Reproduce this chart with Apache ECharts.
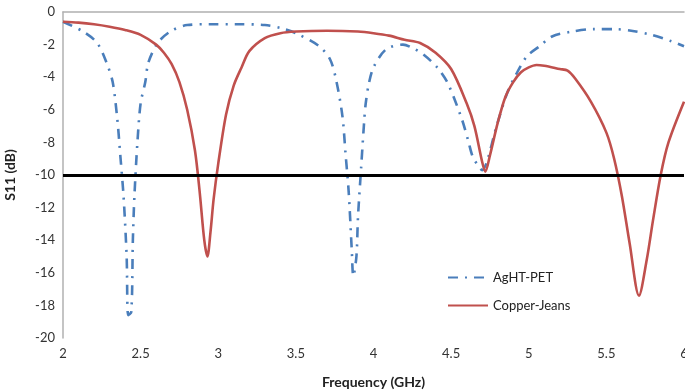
<!DOCTYPE html>
<html>
<head>
<meta charset="utf-8">
<script src="https://cdn.jsdelivr.net/npm/echarts@6/dist/echarts.min.js"></script>
<style>
  html, body { margin: 0; padding: 0; background: #fff; }
  #chart { width: 685px; height: 391px; }
</style>
</head>
<body>
<div id="chart"></div>
<script>
// frequency (GHz) / S11 (dB)
const aghtFreq = [2.0, 2.13, 2.22, 2.28, 2.32, 2.35, 2.37, 2.39, 2.41, 2.42, 2.44, 2.45, 2.46, 2.48, 2.5, 2.53, 2.55, 2.61, 2.69, 2.8, 2.95, 3.12, 3.3, 3.41, 3.5, 3.65, 3.72, 3.76, 3.8, 3.82, 3.84, 3.86, 3.87, 3.89, 3.9, 3.92, 3.94, 3.95, 3.97, 4.0, 4.08, 4.19, 4.25, 4.32, 4.41, 4.48, 4.57, 4.61, 4.64, 4.68, 4.7, 4.73, 4.79, 4.86, 4.92, 4.99, 5.07, 5.15, 5.28, 5.42, 5.55, 5.66, 5.79, 5.92, 6.0];
const aghtS11 = [-0.6, -1.2, -1.9, -3.1, -4.3, -6.6, -8.9, -11.3, -15, -18.6, -18.4, -14, -11.3, -7.9, -5.6, -4.3, -3.1, -1.9, -1.2, -0.8, -0.75, -0.75, -0.8, -1.0, -1.3, -2.1, -2.9, -4.2, -6.4, -8.7, -11, -14.6, -16.2, -15, -12.6, -9.6, -6.7, -5.6, -4.4, -3.4, -2.3, -2.0, -2.2, -2.6, -3.4, -4.4, -6.6, -7.9, -8.9, -9.5, -9.7, -9.2, -7.1, -5.0, -3.8, -2.7, -2.1, -1.5, -1.2, -1.05, -1.05, -1.15, -1.4, -1.8, -2.1];

const copperFreq = [2.0, 2.1, 2.2, 2.3, 2.4, 2.5, 2.6, 2.65, 2.7, 2.75, 2.8, 2.85, 2.88, 2.91, 2.93, 2.95, 2.97, 3.0, 3.05, 3.1, 3.15, 3.2, 3.3, 3.4, 3.5, 3.7, 3.9, 4.0, 4.1, 4.2, 4.3, 4.4, 4.5, 4.6, 4.65, 4.7, 4.72, 4.75, 4.8, 4.85, 4.9, 4.95, 5.0, 5.05, 5.1, 5.2, 5.25, 5.3, 5.4, 5.5, 5.55, 5.6, 5.65, 5.71, 5.76, 5.8, 5.85, 5.9, 6.0];
const copperS11 = [-0.6, -0.65, -0.75, -0.9, -1.1, -1.4, -2.0, -2.5, -3.2, -4.3, -6.0, -8.5, -11, -14, -15.0, -13.5, -11.5, -9.3, -6.3, -4.5, -3.4, -2.4, -1.6, -1.3, -1.2, -1.15, -1.2, -1.3, -1.45, -1.7, -1.9, -2.5, -3.5, -5.6, -7.0, -9.2, -9.8, -8.8, -6.8, -5.2, -4.3, -3.7, -3.4, -3.25, -3.3, -3.5, -3.6, -4.1, -5.5, -7.4, -9.0, -11.3, -14.2, -17.4, -15.2, -12.8, -10, -8, -5.5];

const thresholdDb = -10;
const xTicks = [2, 6, 0.5];   // min, max, step
const yTicks = [-20, 0, 2];

const pairs = (xs, ys) => xs.map((x, i) => [x, ys[i]]);

const chart = echarts.init(document.getElementById('chart'));
const labelFont = 'Lato, "Open Sans", sans-serif';

chart.setOption({
  animation: false,
  grid: { left: 63, right: 1, top: 12, bottom: 53, outerBoundsMode: 'none', containLabel: false },
  legend: {
    orient: 'vertical',
    left: 442,
    top: 266,
    itemWidth: 40,
    itemHeight: 10,
    itemGap: 15,
    textStyle: { fontFamily: labelFont, fontSize: 13, color: '#222' },
    data: [
      { name: 'AgHT-PET', itemStyle: { opacity: 0 } },
      { name: 'Copper-Jeans', itemStyle: { opacity: 0 } }
    ]
  },
  xAxis: {
    type: 'value',
    min: xTicks[0],
    max: xTicks[1],
    interval: xTicks[2],
    name: 'Frequency (GHz)',
    nameLocation: 'middle',
    nameGap: 37,
    nameTextStyle: { fontFamily: labelFont, fontWeight: 'bold', fontSize: 14, color: '#222' },
    axisLine: { lineStyle: { color: '#b0b0b0', width: 1.5 } },
    axisTick: { show: false },
    splitLine: { show: false },
    axisLabel: { margin: 9, fontFamily: labelFont, fontSize: 13, color: '#333' }
  },
  yAxis: {
    type: 'value',
    min: yTicks[0],
    max: yTicks[1],
    interval: yTicks[2],
    name: 'S11 (dB)',
    nameLocation: 'middle',
    nameGap: 46,
    nameTextStyle: { fontFamily: labelFont, fontWeight: 'bold', fontSize: 14, color: '#222' },
    axisLine: { show: true, lineStyle: { color: '#b0b0b0', width: 1.5 } },
    axisTick: { show: false },
    splitLine: { show: false },
    axisLabel: { margin: 8, fontFamily: labelFont, fontSize: 13, color: '#333' }
  },
  series: [
    {
      name: 'AgHT-PET',
      type: 'line',
      data: pairs(aghtFreq, aghtS11),
      symbol: 'none',
      smooth: 0.3,
      z: 3,
      lineStyle: { color: '#4a7ebb', width: 2.6, type: [10, 7, 2, 7] },
      itemStyle: { color: '#4a7ebb' }
    },
    {
      name: 'Copper-Jeans',
      type: 'line',
      data: pairs(copperFreq, copperS11),
      symbol: 'none',
      smooth: 0.3,
      z: 4,
      lineStyle: { color: '#c0504d', width: 2.6 },
      itemStyle: { color: '#c0504d' },
      markLine: {
        silent: true,
        symbol: 'none',
        label: { show: false },
        lineStyle: { color: '#000', width: 3, type: 'solid' },
        data: [{ yAxis: thresholdDb }]
      }
    }
  ]
});
</script>
</body>
</html>
